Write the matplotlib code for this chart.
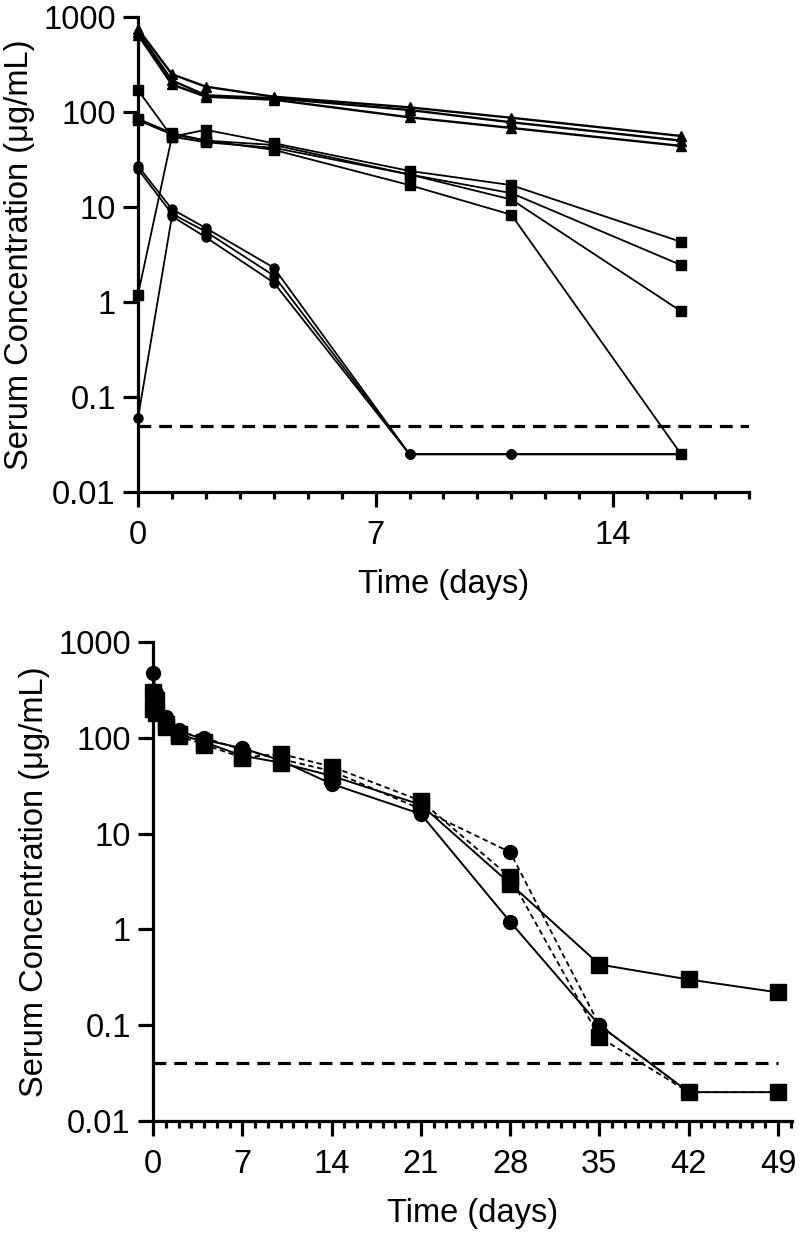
import matplotlib
matplotlib.use('Agg')
import matplotlib.pyplot as plt
from matplotlib.ticker import FixedLocator, MultipleLocator, NullLocator

plt.rcParams['font.family'] = ['Liberation Sans', 'DejaVu Sans']

# top panel data
days_top = [0, 1, 2, 4, 8, 11, 16]
tri_top = [
    [750, 250, 185, 145, 112, 87, 56],
    [700, 215, 150, 140, 105, 78, 50],
    [650, 195, 145, 135, 88, 68, 44],
]
sq_top = [
    [170, 55, 65, 47, 24, 17, 4.3],
    [85, 60, 50, 45, 22, 14, 2.45],
    [1.2, 55, 48, 42, 22, 12, 0.8],
    [82, 58, 50, 40, 17, 8.3, 0.025],
]
circ_top = [
    [27, 9.5, 6.0, 2.3, 0.025, 0.025, 0.025],
    [25, 8.5, 5.5, 1.9, 0.025, 0.025, 0.025],
    [0.06, 8.0, 4.8, 1.6, 0.025, 0.025, 0.025],
]
lod_top = 0.05

# bottom panel data
days_bot = [0, 0.25, 1, 2, 4, 7, 10, 14, 21, 28, 35, 42, 49]
bot_circ_solid = [470, 290, 165, 120, 95, 78, 58, 33, 16, 1.2, 0.1, 0.02, 0.02]
bot_sq_solid = [300, 250, 140, 110, 90, 65, 55, 40, 20, 3.0, 0.43, 0.30, 0.22]
bot_circ_dash = [280, 200, 155, 115, 100, 75, 60, 45, 18, 6.4, 0.1, 0.02]
bot_sq_dash = [200, 180, 130, 105, 85, 62, 68, 50, 22, 3.5, 0.075, 0.02, 0.02]
lod_bot = 0.04

ylabel = 'Serum Concentration (\u03bcg/mL)'
decades = [0.01, 0.1, 1, 10, 100, 1000]
dec_labels = ['0.01', '0.1', '1', '10', '100', '1000']
fs = 23.5


def style_axes(ax):
    ax.set_yscale('log')
    ax.set_ylim(0.01, 1000)
    ax.yaxis.set_major_locator(FixedLocator(decades))
    ax.yaxis.set_minor_locator(NullLocator())
    ax.set_yticklabels(dec_labels)
    ax.spines['top'].set_visible(False)
    ax.spines['right'].set_visible(False)
    for s in ['left', 'bottom']:
        ax.spines[s].set_linewidth(2.3)
    ax.tick_params(which='major', length=11, width=2.3, labelsize=fs)
    ax.tick_params(which='minor', length=5, width=2.3)
    ax.tick_params(axis='y', pad=5)
    ax.tick_params(axis='x', which='major', pad=9)
    ax.set_ylabel(ylabel, fontsize=fs, labelpad=6)
    ax.set_xlabel('Time (days)', fontsize=fs, labelpad=13)


fig = plt.figure(figsize=(8, 12.35), dpi=100)

ax1 = fig.add_axes([0.1725, 0.6016, 0.7637, 0.3846])
for y in circ_top:
    ax1.plot(days_top, y, color='black', lw=1.3, marker='o', ms=6.5, clip_on=False)
for y in sq_top:
    ax1.plot(days_top, y, color='black', lw=1.3, marker='s', ms=7.5, clip_on=False)
for y in tri_top:
    ax1.plot(days_top, y, color='black', lw=1.7, marker='^', ms=7.5, clip_on=False)
ax1.hlines(lod_top, 0, 18, colors='black', linestyles=(0, (4, 2.5)), lw=2.3)
ax1.set_xlim(0, 18)
ax1.xaxis.set_major_locator(FixedLocator([0, 7, 14]))
ax1.xaxis.set_minor_locator(MultipleLocator(1))
style_axes(ax1)

ax2 = fig.add_axes([0.19125, 0.0923, 0.7988, 0.3879])
ax2.plot(days_bot, bot_circ_solid, color='black', lw=1.4, marker='o', ms=10, clip_on=False)
ax2.plot(days_bot[:len(bot_circ_dash)], bot_circ_dash, color='black', lw=1.3,
         ls=(0, (3, 2)), marker='o', ms=10, clip_on=False)
ax2.plot(days_bot, bot_sq_dash, color='black', lw=1.3, ls=(0, (3, 2)),
         marker='s', ms=11, clip_on=False)
ax2.plot(days_bot, bot_sq_solid, color='black', lw=1.4, marker='s', ms=11, clip_on=False)
ax2.hlines(lod_bot, 0, 49, colors='black', linestyles=(0, (4, 2.5)), lw=2.3)
ax2.set_xlim(0, 50.1)
ax2.xaxis.set_major_locator(FixedLocator([0, 7, 14, 21, 28, 35, 42, 49]))
ax2.xaxis.set_minor_locator(MultipleLocator(1))
style_axes(ax2)

fig.savefig('out.png', dpi=100)
